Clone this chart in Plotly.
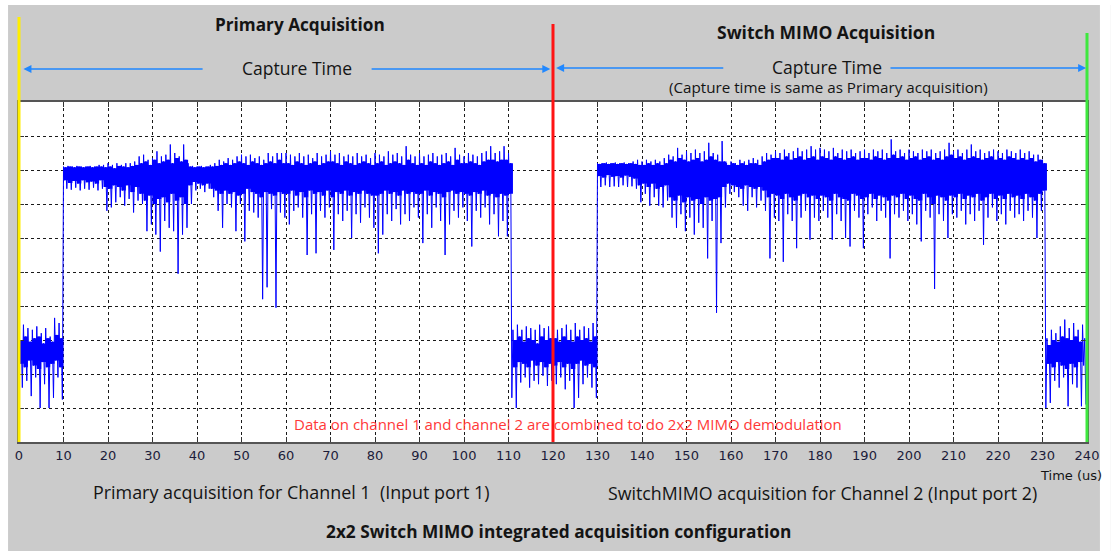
import plotly.graph_objects as go

# ---------------------------------------------------------------------------
# Captured waveform, summarised per 1 us bin (arbitrary amplitude, 0..10 FS):
#   env_max / env_min     : extreme sample values in the bin
#   inner_max / inner_min : edges of the dense core of samples in the bin
# ---------------------------------------------------------------------------
bin_start_us = list(range(240))

env_max = [
    3.3, 3.45, 3.35, 3.3, 3.4, 3.2, 3.35, 3.1, 3.65, 3.5,            # 0-9
    8.1, 8.12, 8.1, 8.12, 8.1, 8.1, 8.12, 8.1, 8.15, 8.15,           # 10-19
    8.2, 8.15, 8.2, 8.15, 8.2, 8.2, 8.25, 8.4, 8.45, 8.3,            # 20-29
    8.35, 8.55, 8.4, 8.45, 8.75, 8.5, 8.4, 8.75, 8.2, 8.12,          # 30-39
    8.1, 8.12, 8.1, 8.15, 8.2, 8.3, 8.25, 8.35, 8.3, 8.4,            # 40-49
    8.45, 8.4, 8.45, 8.35, 8.4, 8.3, 8.5, 8.4, 8.5, 8.5,             # 50-59
    8.5, 8.45, 8.4, 8.5, 8.4, 8.45, 8.35, 8.5, 8.4, 8.45,            # 60-69
    8.55, 8.45, 8.5, 8.4, 8.45, 8.4, 8.5, 8.4, 8.45, 8.35,           # 70-79
    8.5, 8.45, 8.4, 8.55, 8.45, 8.5, 8.4, 8.7, 8.45, 8.4,            # 80-89
    8.5, 8.4, 8.45, 8.5, 8.4, 8.45, 8.5, 8.4, 8.65, 8.45,            # 90-99
    8.4, 8.5, 8.45, 8.4, 8.5, 8.55, 8.7, 8.5, 8.55, 8.7,             # 100-109
    8.5, 3.3, 3.45, 3.3, 3.4, 3.35, 3.3, 3.45, 3.35, 3.4,            # 110-119
    3.4, 3.3, 3.35, 3.45, 3.3, 3.5, 3.3, 3.4, 3.35, 3.5,             # 120-129
    8.2, 8.2, 8.22, 8.2, 8.22, 8.2, 8.22, 8.2, 8.25, 8.3,            # 130-139
    8.25, 8.3, 8.25, 8.3, 8.25, 8.35, 8.45, 8.4, 8.65, 8.45,         # 140-149
    8.55, 8.5, 8.6, 8.5, 8.55, 8.8, 8.5, 8.45, 8.85, 8.2,            # 150-159
    8.25, 8.2, 8.3, 8.25, 8.3, 8.35, 8.3, 8.4, 8.5, 8.45,            # 160-169
    8.55, 8.5, 8.6, 8.5, 8.55, 8.65, 8.55, 8.6, 8.7, 8.6,            # 170-179
    8.65, 8.6, 8.55, 8.65, 8.5, 8.6, 8.55, 8.6, 8.5, 8.55,           # 180-189
    8.6, 8.5, 8.6, 8.55, 8.6, 8.5, 8.9, 8.55, 8.6, 8.5,              # 190-199
    8.6, 8.55, 8.5, 8.6, 8.55, 8.6, 8.5, 8.55, 8.6, 8.8,             # 200-209
    8.55, 8.6, 8.5, 8.6, 8.75, 8.55, 8.6, 8.5, 8.55, 8.6,            # 210-219
    8.55, 8.5, 8.6, 8.55, 8.5, 8.6, 8.5, 8.55, 8.45, 8.45,           # 220-229
    8.3, 3.05, 3.3, 3.2, 3.4, 3.6, 3.35, 3.5, 3.3, 3.45,             # 230-239
]

env_min = [
    1.6, 1.8, 1.35, 1.9, 1.0, 1.7, 1.0, 1.3, 1.9, 1.25,              # 0-9
    7.45, 7.42, 7.48, 7.4, 7.45, 7.42, 7.48, 7.4, 7.45, 6.8,         # 10-19
    6.9, 7.05, 7.2, 6.95, 7.15, 6.75, 7.1, 7.0, 6.2, 6.4,            # 20-29
    6.1, 5.6, 6.5, 6.3, 6.2, 4.95, 6.1, 6.3, 7.0, 7.4,               # 30-39
    7.45, 7.35, 7.45, 7.2, 6.8, 6.3, 7.0, 6.9, 6.2, 7.0,             # 40-49
    5.9, 6.8, 6.75, 6.6, 4.2, 4.55, 6.85, 3.95, 6.75, 6.6,           # 50-59
    6.4, 6.8, 6.9, 6.6, 5.5, 6.7, 5.55, 6.8, 6.6, 6.9,               # 60-69
    5.65, 6.7, 6.5, 6.8, 6.0, 6.7, 6.45, 6.9, 6.6, 6.3,              # 70-79
    5.55, 6.1, 6.7, 6.5, 6.85, 6.4, 6.7, 6.5, 6.9, 6.6,              # 80-89
    5.85, 6.7, 6.3, 6.9, 6.5, 5.5, 6.4, 6.8, 6.6, 6.9,               # 90-99
    6.5, 5.75, 6.8, 6.6, 6.9, 6.4, 6.7, 6.05, 6.5, 6.05,             # 100-109
    1.3, 1.0, 1.75, 1.9, 1.6, 1.8, 1.7, 1.95, 1.65, 1.8,             # 110-119
    1.7, 1.9, 1.55, 1.8, 1.0, 1.3, 1.7, 1.9, 1.6, 1.3,               # 120-129
    7.5, 7.55, 7.5, 7.52, 7.5, 7.55, 7.5, 7.52, 7.45, 7.05,          # 130-139
    7.3, 6.95, 7.2, 6.95, 6.9, 7.1, 6.6, 6.3, 6.7, 6.2,              # 140-149
    6.6, 6.1, 6.45, 6.3, 5.4, 6.5, 3.8, 5.85, 6.9, 7.3,              # 150-159
    7.35, 7.2, 6.95, 6.8, 7.2, 6.9, 7.1, 6.8, 5.4, 6.6,              # 160-169
    6.5, 5.3, 6.7, 6.5, 5.7, 6.6, 6.8, 5.95, 6.6, 6.5,               # 170-179
    6.8, 6.6, 5.95, 6.7, 6.5, 6.0, 5.75, 6.8, 6.6, 5.7,              # 180-189
    6.7, 6.9, 6.5, 6.8, 6.6, 5.4, 6.7, 6.6, 6.8, 6.5,                # 190-199
    6.7, 6.4, 5.9, 6.8, 6.6, 4.5, 6.7, 6.5, 6.0, 6.7,                # 200-209
    6.6, 6.8, 6.4, 6.7, 6.5, 6.8, 5.8, 6.6, 6.9, 6.5,                # 210-219
    6.7, 6.4, 6.8, 6.6, 6.7, 6.5, 6.8, 6.6, 6.0, 6.8,                # 220-229
    1.0, 1.15, 1.8, 1.6, 1.9, 1.05, 1.7, 1.6, 1.05, 1.1,             # 230-239
]

inner_max = [
    3.0, 3.1, 2.95, 3.05, 3.1, 2.9, 3.05, 2.95, 3.15, 3.05,          # 0-9
    8.08, 8.1, 8.08, 8.1, 8.08, 8.1, 8.08, 8.1, 8.1, 8.08,           # 10-19
    8.1, 8.05, 8.12, 8.1, 8.08, 8.12, 8.15, 8.2, 8.25, 8.15,         # 20-29
    8.3, 8.2, 8.25, 8.3, 8.2, 8.35, 8.25, 8.3, 8.1, 8.08,            # 30-39
    8.1, 8.08, 8.1, 8.1, 8.12, 8.15, 8.2, 8.15, 8.2, 8.25,           # 40-49
    8.2, 8.15, 8.25, 8.2, 8.15, 8.2, 8.25, 8.2, 8.3, 8.2,            # 50-59
    8.2, 8.15, 8.25, 8.2, 8.15, 8.2, 8.25, 8.15, 8.2, 8.25,          # 60-69
    8.25, 8.2, 8.15, 8.25, 8.2, 8.15, 8.2, 8.25, 8.2, 8.15,          # 70-79
    8.2, 8.25, 8.15, 8.2, 8.25, 8.2, 8.15, 8.3, 8.2, 8.15,           # 80-89
    8.2, 8.15, 8.25, 8.2, 8.15, 8.2, 8.25, 8.15, 8.3, 8.2,           # 90-99
    8.2, 8.25, 8.2, 8.15, 8.25, 8.3, 8.3, 8.25, 8.3, 8.3,            # 100-109
    8.2, 3.0, 3.1, 2.95, 3.05, 3.0, 2.9, 3.1, 3.0, 3.05,             # 110-119
    3.05, 2.95, 3.1, 3.0, 2.95, 3.1, 3.0, 3.05, 2.95, 3.1,           # 120-129
    8.18, 8.2, 8.18, 8.2, 8.18, 8.2, 8.18, 8.2, 8.18, 8.15,          # 130-139
    8.15, 8.2, 8.15, 8.2, 8.15, 8.2, 8.3, 8.25, 8.35, 8.3,           # 140-149
    8.25, 8.3, 8.35, 8.25, 8.3, 8.4, 8.3, 8.25, 8.25, 8.15,          # 150-159
    8.2, 8.15, 8.2, 8.15, 8.2, 8.2, 8.15, 8.25, 8.3, 8.35,           # 160-169
    8.35, 8.3, 8.4, 8.3, 8.35, 8.4, 8.3, 8.35, 8.4, 8.3,             # 170-179
    8.4, 8.35, 8.3, 8.4, 8.35, 8.3, 8.35, 8.4, 8.3, 8.35,            # 180-189
    8.35, 8.3, 8.4, 8.35, 8.3, 8.35, 8.45, 8.35, 8.4, 8.3,           # 190-199
    8.35, 8.4, 8.3, 8.35, 8.4, 8.3, 8.35, 8.3, 8.4, 8.45,            # 200-209
    8.35, 8.4, 8.3, 8.35, 8.4, 8.35, 8.3, 8.35, 8.4, 8.3,            # 210-219
    8.35, 8.3, 8.4, 8.35, 8.3, 8.35, 8.3, 8.35, 8.25, 8.3,           # 220-229
    8.2, 2.85, 3.0, 2.95, 3.1, 3.05, 3.0, 3.1, 2.95, 3.05,           # 230-239
]

inner_min = [
    2.3, 2.2, 2.4, 2.25, 2.15, 2.35, 2.2, 2.3, 2.4, 2.2,              # 0-9
    7.7, 7.62, 7.68, 7.6, 7.7, 7.64, 7.66, 7.6, 7.7, 7.5,            # 10-19
    7.45, 7.55, 7.5, 7.4, 7.55, 7.35, 7.5, 7.3, 7.1, 7.25,           # 20-29
    7.0, 7.15, 7.2, 7.05, 7.3, 7.1, 7.2, 7.0, 7.55, 7.65,            # 30-39
    7.6, 7.55, 7.6, 7.45, 7.4, 7.3, 7.4, 7.3, 7.35, 7.25,            # 40-49
    7.3, 7.45, 7.35, 7.3, 7.2, 7.35, 7.3, 7.25, 7.35, 7.3,           # 50-59
    7.3, 7.4, 7.25, 7.35, 7.2, 7.4, 7.3, 7.35, 7.25, 7.4,            # 60-69
    7.2, 7.35, 7.3, 7.4, 7.25, 7.35, 7.3, 7.4, 7.3, 7.25,            # 70-79
    7.25, 7.3, 7.4, 7.3, 7.35, 7.25, 7.4, 7.3, 7.35, 7.3,            # 80-89
    7.3, 7.4, 7.25, 7.35, 7.3, 7.2, 7.35, 7.4, 7.3, 7.35,            # 90-99
    7.3, 7.25, 7.35, 7.3, 7.4, 7.25, 7.3, 7.2, 7.3, 7.25,            # 100-109
    7.3, 2.2, 2.35, 2.3, 2.2, 2.4, 2.25, 2.35, 2.2, 2.3,             # 110-119
    2.25, 2.35, 2.2, 2.3, 2.15, 2.3, 2.4, 2.25, 2.3, 2.2,            # 120-129
    7.82, 7.78, 7.85, 7.8, 7.82, 7.78, 7.84, 7.8, 7.75, 7.55,        # 130-139
    7.6, 7.5, 7.6, 7.45, 7.5, 7.55, 7.2, 7.1, 7.25, 7.05,            # 140-149
    7.2, 7.1, 7.15, 7.0, 7.2, 7.1, 7.15, 7.2, 7.5, 7.6,              # 150-159
    7.55, 7.5, 7.45, 7.55, 7.5, 7.45, 7.5, 7.4, 7.2, 7.3,            # 160-169
    7.25, 7.15, 7.3, 7.2, 7.1, 7.25, 7.3, 7.2, 7.25, 7.15,           # 170-179
    7.25, 7.2, 7.1, 7.3, 7.2, 7.15, 7.1, 7.3, 7.25, 7.15,            # 180-189
    7.2, 7.3, 7.15, 7.25, 7.2, 7.1, 7.25, 7.2, 7.3, 7.15,            # 190-199
    7.25, 7.15, 7.1, 7.3, 7.2, 7.0, 7.25, 7.2, 7.1, 7.25,            # 200-209
    7.2, 7.3, 7.15, 7.25, 7.2, 7.3, 7.1, 7.2, 7.3, 7.15,             # 210-219
    7.25, 7.15, 7.3, 7.2, 7.25, 7.15, 7.3, 7.2, 7.1, 7.3,            # 220-229
    7.4, 2.3, 2.2, 2.35, 2.25, 2.15, 2.3, 2.2, 2.35, 2.25,           # 230-239
]

# Acquisition boundaries: start of primary, switch instant, end of Switch MIMO
event_times_us = [0, 120, 240]
event_colors = ["#ffee00", "#ff1414", "#3ee83e"]
event_tops = [17, 24, 33]          # top of each marker line, px from page top

x_tick_values = list(range(0, 241, 10))
x_range = [0, 240]

# ---------------------------------------------------------------------------
W, H = 1111, 551
ML, MR, MT, MB = 19, 19, 102, 109
PW, PH = W - ML - MR, H - MT - MB
BLUE = "rgb(0,0,255)"
ARROW = "#2188ff"
GRAY = "#cbcbcb"
TEXT = "#141414"


def px_x(px):
    return (px - ML) / PW


def px_y(py):
    return (MT + PH - py) / PH


# each bin is traced max -> inner min -> inner max -> min
wave_t, wave_v = [], []
for t, a, b, c, d in zip(bin_start_us, env_max, inner_min, inner_max, env_min):
    wave_t += [t, t + 0.25, t + 0.5, t + 0.75]
    wave_v += [a, b, c, d]

fig = go.Figure()
# solid core of the trace, one step per bin
fig.add_trace(go.Scatter(
    x=bin_start_us, y=inner_min, mode="lines", line=dict(width=0, shape="hv"),
    hoverinfo="skip", showlegend=False))
fig.add_trace(go.Scatter(
    x=bin_start_us, y=inner_max, mode="lines", line=dict(width=0, shape="hv"),
    fill="tonexty", fillcolor=BLUE, hoverinfo="skip", showlegend=False))
# individual excursions
fig.add_trace(go.Scatter(
    x=wave_t, y=wave_v, mode="lines", line=dict(color=BLUE, width=1),
    showlegend=False))

shapes = []
# white page margin around the grey panel
shapes.append(dict(type="rect", xref="paper", yref="paper", layer="above",
                   x0=px_x(-5), x1=px_x(W + 5), y0=px_y(5), y1=px_y(-5),
                   fillcolor="white", line=dict(width=0)))
shapes.append(dict(type="rect", xref="paper", yref="paper", layer="above",
                   x0=px_x(-5), x1=px_x(8), y0=px_y(H + 5), y1=px_y(-5),
                   fillcolor="white", line=dict(width=0)))
shapes.append(dict(type="rect", xref="paper", yref="paper", layer="above",
                   x0=px_x(1105), x1=px_x(W + 5), y0=px_y(H + 5), y1=px_y(-5),
                   fillcolor="white", line=dict(width=0)))
for t, c, top in zip(event_times_us, event_colors, event_tops):
    xp = (t - x_range[0]) / (x_range[1] - x_range[0])
    shapes.append(dict(type="line", xref="paper", yref="paper", layer="above",
                       x0=xp, x1=xp, y0=0, y1=px_y(top),
                       line=dict(color=c, width=3)))

annotations = []


def label(text, px, py, size, bold=False, color=TEXT, family="Open Sans"):
    if bold:
        text = "<b>" + text + "</b>"
    annotations.append(dict(text=text, xref="paper", yref="paper",
                            x=px_x(px), y=px_y(py), xanchor="center",
                            yanchor="middle", showarrow=False,
                            font=dict(size=size, color=color, family=family)))


def arrow(head_t, tail_t, py):
    annotations.append(dict(text="", xref="x", yref="paper", x=head_t,
                            y=px_y(py), axref="x", ayref="pixel", ax=tail_t,
                            ay=0, showarrow=True, arrowhead=2, arrowsize=1,
                            arrowwidth=1.6, arrowcolor=ARROW, standoff=0,
                            startstandoff=0))


label("Primary Acquisition", 301, 25, 17.2, bold=True)
label("Capture Time", 298, 68, 17.5)
arrow(1.0, 41.6, 69)
arrow(119.4, 78.9, 69)

label("Switch MIMO Acquisition", 830, 32, 17.5, bold=True)
label("Capture Time", 831, 67, 17.5)
label("(Capture time is same as Primary acquisition)", 832, 87, 15.2)
arrow(120.7, 158.6, 68)
arrow(239.8, 195.5, 68)

label("Data on channel 1 and channel 2 are combined to do 2x2 MIMO demodulation",
      571, 424, 15, color="#ff3838")

label("Time (us)", 1076, 475, 13, family="DejaVu Sans")
label("Primary acquisition for Channel 1  (Input port 1)", 293, 492, 17.9)
label("SwitchMIMO acquisition for Channel 2 (Input port 2)", 826, 493, 17.8)
label("2x2 Switch MIMO integrated acquisition configuration", 561, 531, 17.3, bold=True)

fig.update_layout(
    width=W, height=H,
    margin=dict(l=ML, r=MR, t=MT, b=MB, pad=0),
    paper_bgcolor=GRAY, plot_bgcolor="white",
    shapes=shapes, annotations=annotations, showlegend=False,
    xaxis=dict(range=x_range, tickvals=x_tick_values, ticks="inside",
               ticklen=5, tickcolor="#333", showline=True, linecolor="#555",
               linewidth=2, mirror="ticks", showgrid=True, gridcolor="#1a1a1a",
               griddash="3px,3px", gridwidth=1, zeroline=False,
               tickfont=dict(family="DejaVu Sans", size=13, color="#1c1c3a")),
    yaxis=dict(range=[0, 10], dtick=1, ticks="inside", ticklen=5,
               tickcolor="#333", showticklabels=False, showline=True,
               linecolor="#555", linewidth=2, mirror="ticks", showgrid=True,
               gridcolor="#1a1a1a", griddash="3px,3px", gridwidth=1,
               zeroline=False),
)

fig.write_html("out.html")
